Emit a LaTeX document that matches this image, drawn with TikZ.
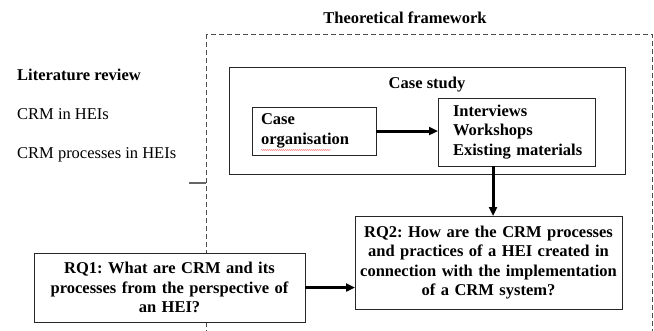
\documentclass[tikz,border=0pt]{standalone}
\usepackage{fontspec}
\setmainfont{Liberation Serif}
\usetikzlibrary{arrows.meta,decorations.pathmorphing}
\frenchspacing
\begin{document}
\begin{tikzpicture}[x=1pt,y=-1pt,
  every node/.style={font=\fontsize{16.5}{19.5}\selectfont},
  box/.style={draw=black!85,fill=white,line width=1pt,rectangle,outer sep=0pt,inner sep=0pt},
  boxtext/.style={box,font=\fontsize{16.5}{19.5}\selectfont\bfseries},
  plain/.style={inner sep=0pt,anchor=base west},
  arr/.style={line width=3pt,-{Triangle[length=9pt,width=8pt]}},
  frame/.style={draw=black!70,dashed,dash pattern=on 5pt off 3pt,line width=1pt},
  squiggle/.style={draw=red!75,line width=0.4pt,decorate,decoration={snake,amplitude=0.4pt,segment length=2pt}}]
\useasboundingbox (0,0) rectangle (654,330);
\clip (0,0) rectangle (654,330);
% dashed theoretical framework
\draw[frame] (206,34) rectangle (652,345);
\node[plain,font=\fontsize{16.5}{19.5}\selectfont\bfseries,anchor=base] (tf) at (405,23) {Theoretical framework};
% literature review
\node[plain,font=\fontsize{16.5}{19.5}\selectfont\bfseries] (lr) at (17,80) {Literature review};
\node[plain] (l1) at (17,119) {CRM in HEIs};
\node[plain] (l2) at (17,158) {CRM processes in HEIs};
\coordinate (mk) at (189,183);
\draw[black!60,line width=1.5pt] (mk) -- ++(17,0);
% case study
\node[box,minimum width=396pt,minimum height=107pt] (cs) at (427,120.5) {};
\node[plain,font=\fontsize{16.5}{19.5}\selectfont\bfseries,anchor=base] (cst) at (427,88) {Case study};
\node[boxtext,minimum width=124pt,minimum height=48pt,text width=106pt,align=left,inner xsep=9pt] (co) at (314,131) {Case\\organisation};
\draw[squiggle] (261,150) -- (331,150);
\node[boxtext,minimum width=157pt,minimum height=68pt,text width=147pt,align=left,inner xsep=0pt] (iv) at (516.5,132) {\hspace*{10pt}Interviews\\\hspace*{10pt}Workshops\\\hspace*{10pt}Existing materials};
% research questions
\node[boxtext,minimum width=267pt,minimum height=93pt,text width=267pt,align=center] (rq2) at (488.5,262.5) {RQ2: How are the CRM processes\\and practices of a HEI created in\\connection with the implementation\\of a CRM system?};
\node[boxtext,minimum width=271pt,minimum height=69pt,text width=271pt,align=center] (rq1) at (169.5,287.5) {RQ1: What are CRM and its\\processes from the perspective of\\an HEI?};
% arrows
\draw[arr] (co.east) -- (co.east -| iv.west);
\path (rq2.north west) ++(138,0) coordinate (vt);
\draw[arr] (vt |- iv.south) -- (vt);
\draw[arr] (rq1.east) -- (rq1.east -| rq2.west);
\end{tikzpicture}
\end{document}
